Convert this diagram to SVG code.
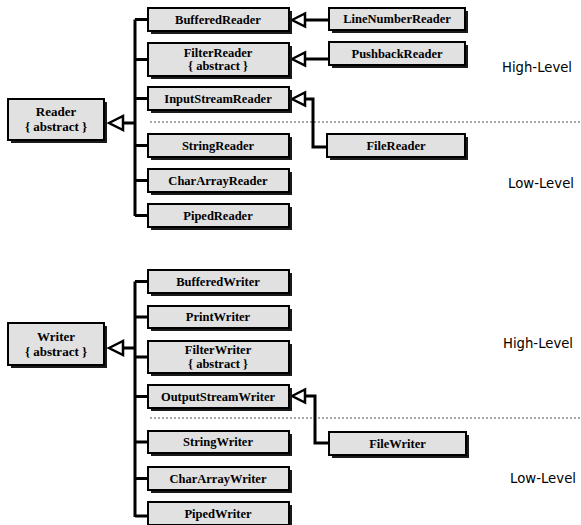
<svg xmlns="http://www.w3.org/2000/svg" width="581" height="525" viewBox="0 0 581 525">
<style>
.sh{fill:#1a1a1a}
.bx{fill:#e1e1e1;stroke:#000;stroke-width:2}
.t{font-family:'Liberation Serif','DejaVu Serif',serif;font-weight:700;font-size:12.5px;text-anchor:middle;fill:#000}
.tb{font-family:'Liberation Serif','DejaVu Serif',serif;font-weight:700;font-size:13px;text-anchor:middle;fill:#000}
.lv{font-family:'DejaVu Sans',sans-serif;font-size:14px;fill:#000}
.ln{fill:none;stroke:#000;stroke-width:3}
.ar{fill:#fff;stroke:#000;stroke-width:2.5;stroke-linejoin:miter}
.dt{stroke:#8a8a8a;stroke-width:1.5;stroke-dasharray:2 2}
</style>

<g id="dividers">
<line class="dt" x1="150" y1="122" x2="581" y2="122"/>
<line class="dt" x1="150" y1="418" x2="581" y2="418"/>
</g>

<g id="connectors">
<path class="ln" d="M122,123 H135 M135,19.5 V216 M135,19.5 H148 M135,59.5 H148 M135,98.5 H148 M135,145.5 H148 M135,180.5 H148 M135,215.5 H148"/>
<path class="ar" d="M109,123 L123,116 L123,130 Z"/>
<path class="ln" d="M305,20 H329 M305,59 H329 M305,99 H313 V147 H327"/>
<path class="ar" d="M292,20 L305,13.5 L305,26.5 Z"/>
<path class="ar" d="M292,59 L305,52.5 L305,65.5 Z"/>
<path class="ar" d="M292,99 L305,92.5 L305,105.5 Z"/>
<path class="ln" d="M122,348 H135 M135,281.5 V517 M135,281.5 H148 M135,317 H148 M135,357 H148 M135,396.5 H148 M135,442 H148 M135,478.5 H148 M135,516 H148"/>
<path class="ar" d="M109,348 L123,341 L123,355 Z"/>
<path class="ln" d="M305,396 H315 V443 H329"/>
<path class="ar" d="M292,396 L305,389.5 L305,402.5 Z"/>
</g>

<g id="Reader"><rect class="sh" x="11" y="102" width="96" height="41"/><rect class="bx" x="8" y="99" width="96" height="41"/><text class="tb" x="56" y="116">Reader</text><text class="tb" x="56" y="131">{ abstract }</text></g>
<g id="BufferedReader"><rect class="sh" x="151" y="11" width="141" height="23"/><rect class="bx" x="148" y="8" width="141" height="23"/><text class="t" x="218" y="23.5">BufferedReader</text></g>
<g id="FilterReader"><rect class="sh" x="151" y="46" width="141" height="33"/><rect class="bx" x="148" y="43" width="141" height="33"/><text class="t" x="218" y="56.5">FilterReader</text><text class="t" x="218" y="70">{ abstract }</text></g>
<g id="InputStreamReader"><rect class="sh" x="151" y="90" width="141" height="23"/><rect class="bx" x="148" y="87" width="141" height="23"/><text class="t" x="218" y="102.5">InputStreamReader</text></g>
<g id="StringReader"><rect class="sh" x="151" y="137" width="141" height="23"/><rect class="bx" x="148" y="134" width="141" height="23"/><text class="t" x="218" y="149.5">StringReader</text></g>
<g id="CharArrayReader"><rect class="sh" x="151" y="172" width="141" height="23"/><rect class="bx" x="148" y="169" width="141" height="23"/><text class="t" x="218" y="184.5">CharArrayReader</text></g>
<g id="PipedReader"><rect class="sh" x="151" y="207" width="141" height="23"/><rect class="bx" x="148" y="204" width="141" height="23"/><text class="t" x="218" y="219.5">PipedReader</text></g>
<g id="LineNumberReader"><rect class="sh" x="332" y="11" width="136" height="22"/><rect class="bx" x="329" y="8" width="136" height="22"/><text class="t" x="397" y="23">LineNumberReader</text></g>
<g id="PushbackReader"><rect class="sh" x="332" y="45" width="136" height="23"/><rect class="bx" x="329" y="42" width="136" height="23"/><text class="t" x="397" y="57.5">PushbackReader</text></g>
<g id="FileReader"><rect class="sh" x="330" y="137" width="138" height="23"/><rect class="bx" x="327" y="134" width="138" height="23"/><text class="t" x="396" y="149.5">FileReader</text></g>

<g id="Writer"><rect class="sh" x="11" y="326" width="96" height="42"/><rect class="bx" x="8" y="323" width="96" height="42"/><text class="tb" x="56" y="341">Writer</text><text class="tb" x="56" y="356">{ abstract }</text></g>
<g id="BufferedWriter"><rect class="sh" x="151" y="273" width="141" height="23"/><rect class="bx" x="148" y="270" width="141" height="23"/><text class="t" x="218" y="285.5">BufferedWriter</text></g>
<g id="PrintWriter"><rect class="sh" x="151" y="309" width="141" height="22"/><rect class="bx" x="148" y="306" width="141" height="22"/><text class="t" x="218" y="321">PrintWriter</text></g>
<g id="FilterWriter"><rect class="sh" x="151" y="344" width="141" height="32"/><rect class="bx" x="148" y="341" width="141" height="32"/><text class="t" x="218" y="354">FilterWriter</text><text class="t" x="218" y="367.5">{ abstract }</text></g>
<g id="OutputStreamWriter"><rect class="sh" x="151" y="388" width="141" height="23"/><rect class="bx" x="148" y="385" width="141" height="23"/><text class="t" x="218" y="400.5">OutputStreamWriter</text></g>
<g id="StringWriter"><rect class="sh" x="151" y="434" width="141" height="22"/><rect class="bx" x="148" y="431" width="141" height="22"/><text class="t" x="218" y="446">StringWriter</text></g>
<g id="CharArrayWriter"><rect class="sh" x="151" y="470" width="141" height="23"/><rect class="bx" x="148" y="467" width="141" height="23"/><text class="t" x="218" y="482.5">CharArrayWriter</text></g>
<g id="PipedWriter"><rect class="sh" x="151" y="505" width="141" height="23"/><rect class="bx" x="148" y="502" width="141" height="23"/><text class="t" x="218" y="517.5">PipedWriter</text></g>
<g id="FileWriter"><rect class="sh" x="332" y="435" width="137" height="23"/><rect class="bx" x="329" y="432" width="137" height="23"/><text class="t" x="397.5" y="447.5">FileWriter</text></g>

<g id="levels">
<text class="lv" x="502" y="72" textLength="70" lengthAdjust="spacingAndGlyphs">High-Level</text>
<text class="lv" x="508" y="188" textLength="66" lengthAdjust="spacingAndGlyphs">Low-Level</text>
<text class="lv" x="503" y="348" textLength="70" lengthAdjust="spacingAndGlyphs">High-Level</text>
<text class="lv" x="510" y="483" textLength="66" lengthAdjust="spacingAndGlyphs">Low-Level</text>
</g>
</svg>
